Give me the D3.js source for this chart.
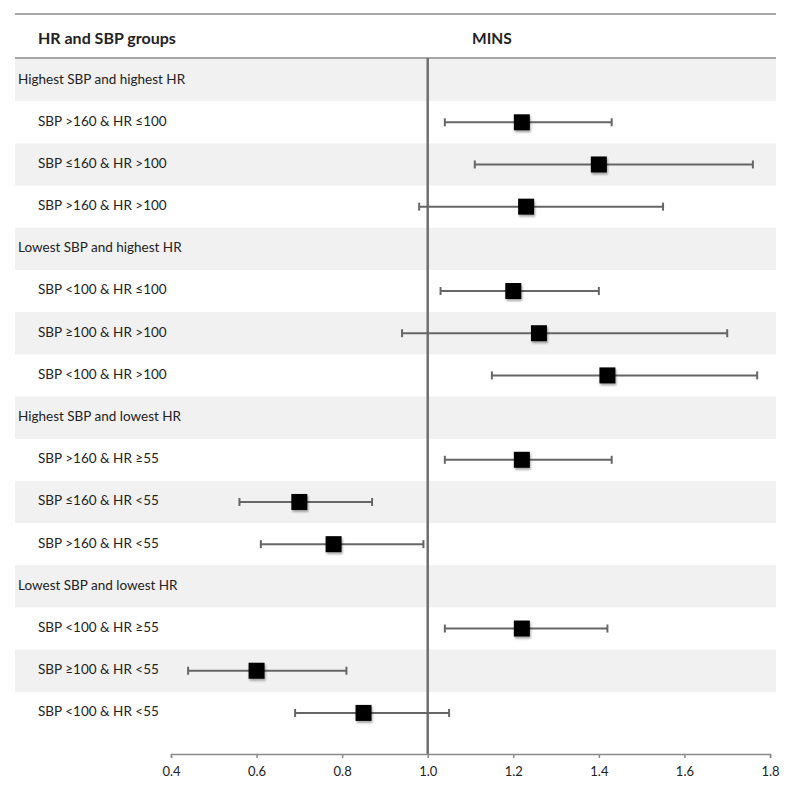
<!DOCTYPE html>
<html>
<head>
<meta charset="utf-8">
<script src="https://cdn.jsdelivr.net/npm/d3@7"></script>
<style>
  html, body { margin: 0; padding: 0; background: #fff; }
  svg { display: block; }
  text { font-family: Lato, "Open Sans", sans-serif; fill: #222; }
</style>
</head>
<body>
<svg id="chart" width="800" height="795"></svg>
<script>
// ---- data ----
const rowLabels = [
  "Highest SBP and highest HR",
  "SBP >160 & HR ≤100",
  "SBP ≤160 & HR >100",
  "SBP >160 & HR >100",
  "Lowest SBP and highest HR",
  "SBP <100 & HR ≤100",
  "SBP ≥100 & HR >100",
  "SBP <100 & HR >100",
  "Highest SBP and lowest HR",
  "SBP >160 & HR ≥55",
  "SBP ≤160 & HR <55",
  "SBP >160 & HR <55",
  "Lowest SBP and lowest HR",
  "SBP <100 & HR ≥55",
  "SBP ≥100 & HR <55",
  "SBP <100 & HR <55"
];
const isGroup = [true, false, false, false, true, false, false, false, true, false, false, false, true, false, false, false];
const estimate = [null, 1.22, 1.40, 1.23, null, 1.20, 1.26, 1.42, null, 1.22, 0.70, 0.78, null, 1.22, 0.60, 0.85];
const lower    = [null, 1.04, 1.11, 0.98, null, 1.03, 0.94, 1.15, null, 1.04, 0.56, 0.61, null, 1.04, 0.44, 0.69];
const upper    = [null, 1.43, 1.76, 1.55, null, 1.40, 1.70, 1.77, null, 1.43, 0.87, 0.99, null, 1.42, 0.81, 1.05];
const xTicks = [0.4, 0.6, 0.8, 1.0, 1.2, 1.4, 1.6, 1.8];
const headerLeft = "HR and SBP groups";
const headerRight = "MINS";

// ---- drawing ----
const svg = d3.select("#chart");
const left = 15, right = 776;
const rowsTop = 59, rowsBottom = 734, axisY = 754;

const x = d3.scaleLinear().domain([0.4, 1.8]).range([171, 770]);
const y = d3.scaleBand().domain(d3.range(rowLabels.length)).range([rowsTop, rowsBottom]).paddingInner(0).paddingOuter(0);

const defs = svg.append("defs");
const f = defs.append("filter").attr("id", "shadow").attr("x", "-30%").attr("y", "-30%").attr("width", "170%").attr("height", "170%");
f.append("feDropShadow").attr("dx", 1).attr("dy", 2).attr("stdDeviation", 1.2).attr("flood-color", "#000").attr("flood-opacity", 0.35);

// shaded rows
svg.append("g").selectAll("rect")
  .data(d3.range(rowLabels.length).filter(i => i % 2 === 0))
  .join("rect")
  .attr("x", left).attr("width", right - left)
  .attr("y", i => y(i)).attr("height", y.bandwidth())
  .attr("fill", "#f1f1f1");

// top and header lines
svg.append("line").attr("x1", left).attr("x2", right).attr("y1", 14).attr("y2", 14)
  .attr("stroke", "#8a8a8a").attr("stroke-width", 1.5);
svg.append("line").attr("x1", left).attr("x2", right).attr("y1", 58).attr("y2", 58)
  .attr("stroke", "#8a8a8a").attr("stroke-width", 1.5);

// headers
svg.append("text").attr("x", 38).attr("y", 40).attr("dominant-baseline", "middle")
  .attr("font-weight", "bold").attr("font-size", 16).text(headerLeft);
svg.append("text").attr("x", 472).attr("y", 40).attr("dominant-baseline", "middle")
  .attr("font-weight", "bold").attr("font-size", 15.5).text(headerRight);

// row labels
svg.append("g").selectAll("text")
  .data(d3.range(rowLabels.length))
  .join("text")
  .attr("x", i => isGroup[i] ? 18 : 38)
  .attr("y", i => y(i) + y.bandwidth() / 2)
  .attr("dominant-baseline", "middle")
  .attr("font-size", 13.5)
  .text(i => rowLabels[i]);

// reference line at 1.0
svg.append("line").attr("x1", x(1)).attr("x2", x(1)).attr("y1", 58).attr("y2", axisY)
  .attr("stroke", "#6f6f6f").attr("stroke-width", 2.5);

// error bars
const rows = d3.range(rowLabels.length).filter(i => !isGroup[i]);
const g = svg.append("g");
const capH = 4;
rows.forEach(i => {
  const cy = y(i) + y.bandwidth() / 2;
  g.append("line").attr("x1", x(lower[i])).attr("x2", x(upper[i])).attr("y1", cy).attr("y2", cy)
    .attr("stroke", "#666").attr("stroke-width", 2);
  [lower[i], upper[i]].forEach(v => {
    g.append("line").attr("x1", x(v)).attr("x2", x(v)).attr("y1", cy - capH).attr("y2", cy + capH)
      .attr("stroke", "#666").attr("stroke-width", 2);
  });
  g.append("rect").attr("x", x(estimate[i]) - 8).attr("y", cy - 8)
    .attr("width", 16).attr("height", 16).attr("fill", "#000")
    .attr("filter", "url(#shadow)");
});

// x axis
const axis = d3.axisBottom(x).tickValues(xTicks).tickFormat(d3.format(".1f")).tickSizeInner(4).tickSizeOuter(4).tickPadding(9);
const ax = svg.append("g").attr("transform", `translate(0,${axisY})`).call(axis);
ax.select(".domain").attr("stroke", "#8a8a8a").attr("stroke-width", 1.5);
ax.selectAll(".tick line").attr("stroke", "#8a8a8a").attr("stroke-width", 1.5);
ax.selectAll(".tick text").attr("font-size", 13).attr("fill", "#333")
  .attr("font-family", "Lato, 'Open Sans', sans-serif");
</script>
</body>
</html>
